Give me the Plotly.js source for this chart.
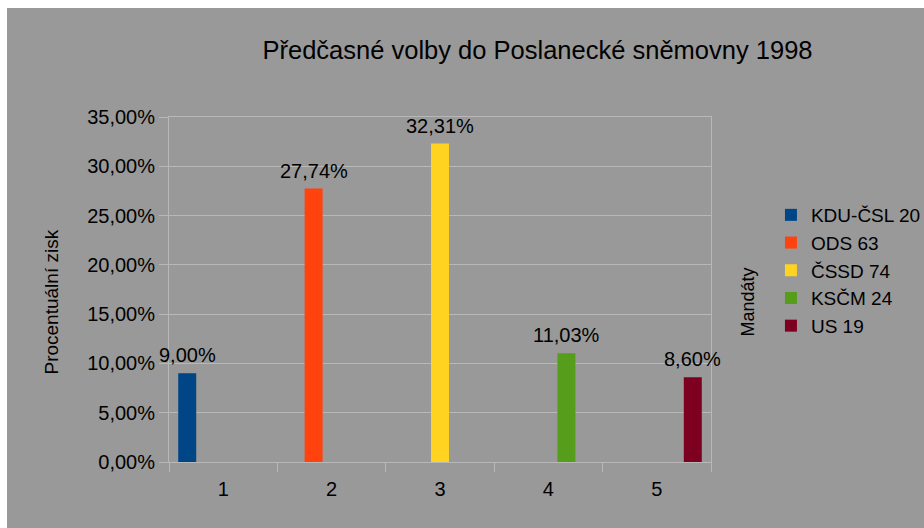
<!DOCTYPE html>
<html>
<head>
<meta charset="utf-8">
<script src="https://cdn.plot.ly/plotly-3.0.1.min.js"></script>
<style>
  html, body { margin: 0; padding: 0; background: #ffffff; width: 924px; height: 528px; overflow: hidden; }
  #chart { position: absolute; left: 7px; top: 8px; width: 917px; height: 520px; }
</style>
</head>
<body>
<div id="chart"></div>
<script>
// Data
const categories = ['1', '2', '3', '4', '5'];
const parties = ['KDU-ČSL 20', 'ODS 63', 'ČSSD 74', 'KSČM 24', 'US 19'];
const shares = [0.0900, 0.2774, 0.3231, 0.1103, 0.0860];
const colors = ['#004586', '#ff420e', '#ffd320', '#579d1c', '#7e0021'];
const titleText = 'Předčasné volby do Poslanecké sněmovny 1998';
const yTitle = 'Procentuální zisk';
const y2Title = 'Mandáty';

function fmt(v) {
  return (v * 100).toFixed(2).replace('.', ',') + '%';
}

const FONT = 'Liberation Sans, Arial, sans-serif';
const BARGAP = 0.17;
const NSER = parties.length;

const traces = parties.map((name, i) => {
  const y = categories.map((c, j) => (j === i ? shares[i] : null));
  return {
    type: 'bar',
    name: name,
    x: categories,
    y: y,
    marker: { color: colors[i], line: { width: 0 } },
    hoverinfo: 'skip'
  };
});

// value labels placed over each bar (bar centre within its group)
const labelAnnotations = parties.map((name, i) => {
  const slot = (1 - BARGAP) / NSER;
  const xc = i - 0.5 + BARGAP / 2 + (i + 0.5) * slot;
  return {
    text: fmt(shares[i]),
    xref: 'x', yref: 'y',
    x: xc, y: shares[i],
    xanchor: 'center', yanchor: 'bottom',
    yshift: 5,
    showarrow: false,
    font: { family: FONT, size: 20, color: '#000000' }
  };
});

const layout = {
  width: 917,
  height: 520,
  paper_bgcolor: '#999999',
  plot_bgcolor: '#999999',
  font: { family: FONT, color: '#000000', size: 20 },
  separators: ', ',
  margin: { l: 162, r: 213, t: 109, b: 66, autoexpand: false },
  barmode: 'group',
  bargap: BARGAP,
  bargroupgap: 0,
  showlegend: true,
  title: {
    text: titleText,
    font: { family: FONT, size: 25.5, color: '#000000' },
    xref: 'container', yref: 'container',
    x: 530.5 / 917, y: 1 - 42 / 520,
    xanchor: 'center', yanchor: 'middle'
  },
  xaxis: {
    type: 'category',
    range: [-0.5, categories.length - 0.5],
    autorange: false,
    tickson: 'boundaries',
    ticks: 'outside',
    ticklen: 9,
    tickcolor: '#b8b8b8',
    tickwidth: 1,
    ticklabelstandoff: 9,
    showline: true,
    linecolor: '#b8b8b8',
    linewidth: 1,
    mirror: true,
    showgrid: false,
    zeroline: false,
    tickfont: { family: FONT, size: 20, color: '#000000' },
    fixedrange: true
  },
  yaxis: {
    range: [0, 0.35],
    autorange: false,
    dtick: 0.05,
    tick0: 0,
    tickformat: '.2%',
    ticks: 'outside',
    ticklen: 9,
    tickcolor: '#b8b8b8',
    showline: true,
    linecolor: '#b8b8b8',
    mirror: true,
    showgrid: true,
    gridcolor: '#b8b8b8',
    gridwidth: 1,
    zeroline: false,
    tickfont: { family: FONT, size: 20, color: '#000000' },
    fixedrange: true
  },
  legend: {
    x: 1.1106, y: 0.771,
    xanchor: 'left', yanchor: 'top',
    bgcolor: 'rgba(0,0,0,0)',
    borderwidth: 0,
    font: { family: FONT, size: 19, color: '#000000' },
    traceorder: 'normal',
    tracegroupgap: 0
  },
  annotations: labelAnnotations.concat([
    {
      text: yTitle,
      xref: 'paper', yref: 'paper',
      x: -0.2166, y: 0.464,
      xanchor: 'center', yanchor: 'middle',
      textangle: -90,
      showarrow: false,
      font: { family: FONT, size: 19, color: '#000000' }
    },
    {
      text: y2Title,
      xref: 'paper', yref: 'paper',
      x: 1.0687, y: 0.463,
      xanchor: 'center', yanchor: 'middle',
      textangle: -90,
      showarrow: false,
      font: { family: FONT, size: 18, color: '#000000' }
    }
  ])
};

Plotly.newPlot('chart', traces, layout, { displayModeBar: false, staticPlot: true });
</script>
</body>
</html>
